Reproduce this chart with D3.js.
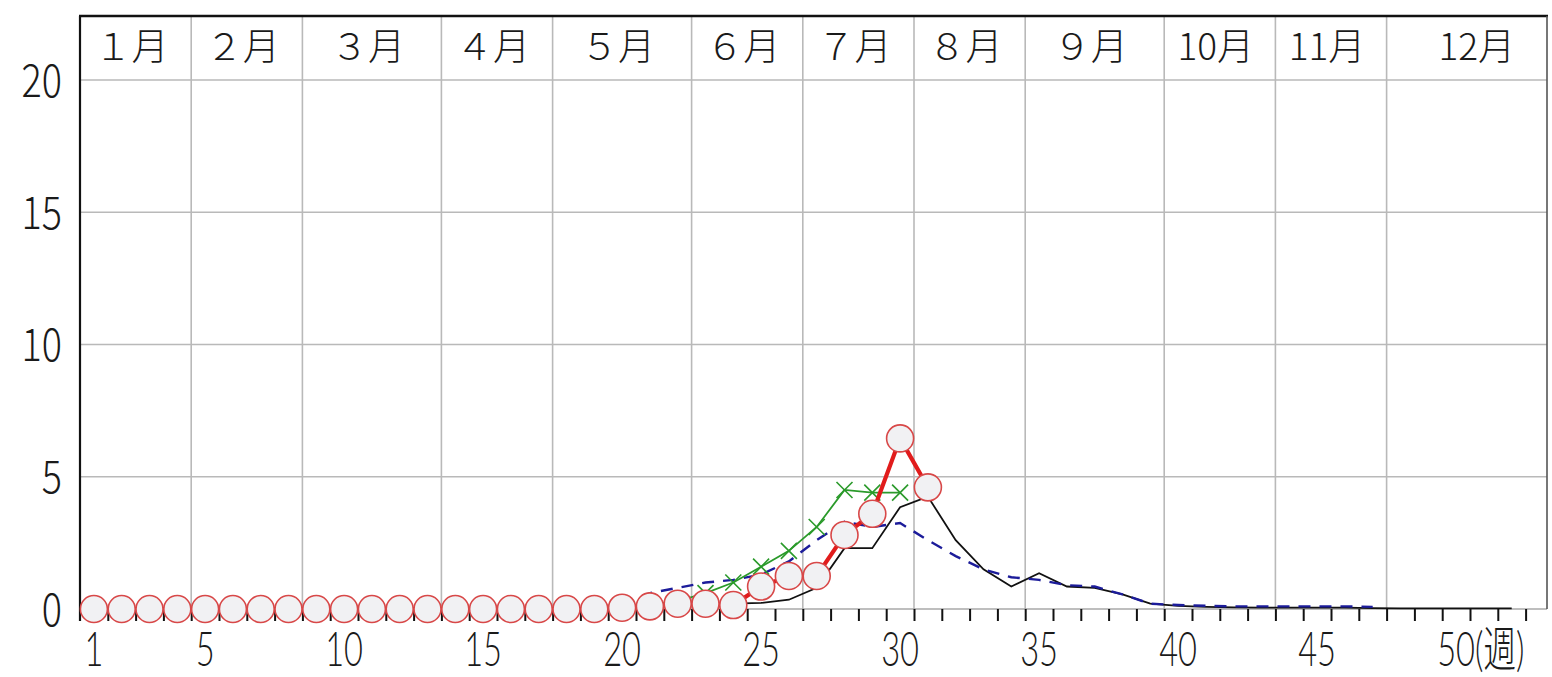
<!DOCTYPE html>
<html>
<head>
<meta charset="utf-8">
<script src="https://cdn.jsdelivr.net/npm/d3@7"></script>
<style>
  html, body { margin: 0; padding: 0; background: #fff; }
  svg { display: block; }
  text { font-weight: 300; }
</style>
</head>
<body>
<svg id="chart" width="1552" height="677"></svg>
<script>
// ---- data: weekly values per sentinel site ----
// Current season (red, circles), weeks 1-31
const currentStart = 1;
const currentValues = [
  0, 0, 0, 0, 0, 0, 0, 0, 0, 0,
  0, 0, 0, 0, 0, 0, 0, 0, 0, 0.05,
  0.1, 0.2, 0.2, 0.15, 0.85, 1.25, 1.25, 2.8, 3.6, 6.45,
  4.6
];
// Previous season (black solid), weeks 23-52
const previousStart = 23;
const previousValues = [
  0, 0.2, 0.23, 0.35, 0.8, 2.3, 2.3, 3.85, 4.25, 2.6,
  1.5, 0.85, 1.35, 0.85, 0.8, 0.55, 0.2, 0.12, 0.08, 0.06,
  0.05, 0.05, 0.05, 0.05, 0.03, 0.02, 0.02, 0.02, 0.02, 0.02
];
// Average of past seasons (blue dashed), weeks 20-47
const averageStart = 20;
const averageValues = [
  0.1, 0.6, 0.8, 1.0, 1.1, 1.3, 1.8, 2.6, 3.3, 3.1,
  3.25, 2.6, 2.0, 1.5, 1.2, 1.1, 0.9, 0.85, 0.55, 0.2,
  0.15, 0.12, 0.1, 0.1, 0.1, 0.1, 0.1, 0.08
];
// Two seasons ago (green, crosses), weeks 20-30
const twoAgoStart = 20;
const twoAgoValues = [0.05, 0.15, 0.3, 0.6, 1.0, 1.6, 2.2, 3.1, 4.5, 4.4, 4.4];

// Month bands: last week of each month
const monthLabels = ["１月", "２月", "３月", "４月", "５月", "６月", "７月", "８月", "９月", "10月", "11月", "12月"];
const monthEndWeeks = [4, 8, 13, 17, 22, 26, 30, 34, 39, 43, 47, 52];

const yTicks = [0, 5, 10, 15, 20];
const xTickLabels = [1, 5, 10, 15, 20, 25, 30, 35, 40, 45, 50];
const weekUnit = "(週)";
const weekCount = 52;

(function draw() {
  const svg = d3.select("#chart");
  const plotL = 80, plotR = 1547, plotT = 16, plotB = 609, weekW = 27.8;
  const FONT = "'Noto Sans CJK JP', 'Noto Sans', sans-serif";
  const XFONT = "Lato, 'Noto Sans CJK JP', sans-serif";

  // week boundaries k = 0..52
  const x = d3.scaleLinear().domain([0, weekCount]).range([plotL, plotL + weekCount * weekW]);
  // week centres
  const xc = d3.scaleLinear().domain([0.5, weekCount + 0.5]).range(x.range());
  const y = d3.scaleLinear().domain([0, 20]).range([plotB, 80]);

  const toPoints = (start, vals) => vals.map((v, i) => ({ w: start + i, v }));
  const current = toPoints(currentStart, currentValues);
  const previous = toPoints(previousStart, previousValues);
  const average = toPoints(averageStart, averageValues);
  const twoAgo = toPoints(twoAgoStart, twoAgoValues);

  // ---- grid ----
  const grid = svg.append("g");
  grid.selectAll("line.h").data(yTicks.filter(d => d > 0)).join("line")
    .attr("class", "h")
    .attr("x1", plotL).attr("x2", plotR)
    .attr("y1", d => y(d)).attr("y2", d => y(d))
    .attr("stroke", "#b9b9b9").attr("stroke-width", 1.6);

  grid.selectAll("line.v").data(monthEndWeeks.slice(0, -1)).join("line")
    .attr("class", "v")
    .attr("x1", d => x(d)).attr("x2", d => x(d))
    .attr("y1", plotT).attr("y2", plotB)
    .attr("stroke", "#b9b9b9").attr("stroke-width", 1.6);

  // zero line
  grid.append("line")
    .attr("x1", plotL).attr("x2", plotR).attr("y1", y(0)).attr("y2", y(0))
    .attr("stroke", "#a9a9a9").attr("stroke-width", 1.6);

  // frame
  grid.append("line").attr("x1", plotL - 1).attr("x2", plotR + 1).attr("y1", plotT).attr("y2", plotT)
    .attr("stroke", "#111").attr("stroke-width", 2.6);
  grid.append("line").attr("x1", plotR).attr("x2", plotR).attr("y1", plotT).attr("y2", plotB)
    .attr("stroke", "#555").attr("stroke-width", 1.6);
  grid.append("line").attr("x1", plotL).attr("x2", plotL).attr("y1", plotT).attr("y2", plotB + 12)
    .attr("stroke", "#111").attr("stroke-width", 2.2);

  // week ticks
  const tickAxis = svg.append("g")
    .attr("transform", `translate(0,${plotB})`)
    .call(d3.axisBottom(x).tickValues(d3.range(1, weekCount + 1)).tickSize(12).tickFormat(""));
  tickAxis.select(".domain").remove();
  tickAxis.selectAll(".tick line").attr("stroke", "#111").attr("stroke-width", 2);

  // ---- month labels ----
  const bands = monthEndWeeks.map((e, i) => ({
    label: monthLabels[i],
    a: i === 0 ? 0 : monthEndWeeks[i - 1],
    b: e
  }));
  svg.append("g").selectAll("text").data(bands).join("text")
    .attr("x", d => d.b === weekCount ? (x(d.a) + plotR) / 2 + 10 : (x(d.a) + x(d.b)) / 2 - 4)
    .attr("y", 60)
    .attr("text-anchor", "middle")
    .attr("font-family", FONT)
    .attr("font-size", 37)
    .attr("fill", "#1a1a1a")
    .text(d => d.label);

  // ---- y axis labels ----
  const ySX = 0.84;
  const yAxis = svg.append("g")
    .attr("transform", `translate(${plotL},0)`)
    .call(d3.axisLeft(y).tickValues(yTicks).tickSize(0).tickPadding(0));
  yAxis.select(".domain").remove();
  yAxis.selectAll(".tick text")
    .attr("x", -18 / ySX)
    .attr("dy", "0.36em")
    .attr("transform", `scale(${ySX},1)`)
    .attr("font-family", FONT)
    .attr("font-size", 45)
    .attr("fill", "#1a1a1a");

  // ---- x axis labels ----
  const xSX = 0.68;
  const xl = svg.append("g").selectAll("g").data(xTickLabels).join("g")
    .attr("transform", d => `translate(${xc(d)},666) scale(${xSX},1)`);
  xl.append("text")
    .attr("font-family", XFONT)
    .attr("font-size", 48)
    .attr("fill", "#1a1a1a")
    .attr("text-anchor", d => d === 50 ? "start" : "middle")
    .text(d => d === 50 ? d + weekUnit : d)
    .each(function (d) {
      if (d === 50) {
        const probe = d3.select(this.parentNode).append("text")
          .attr("font-family", XFONT).attr("font-size", 48).text(String(d));
        const w = probe.node().getComputedTextLength();
        probe.remove();
        d3.select(this).attr("x", -w / 2);
      }
    });

  // ---- series ----
  const line = d3.line().x(d => xc(d.w)).y(d => y(d.v));

  svg.append("path").datum(previous)
    .attr("d", line).attr("fill", "none")
    .attr("stroke", "#111").attr("stroke-width", 1.8);

  svg.append("path").datum(average)
    .attr("d", line).attr("fill", "none")
    .attr("stroke", "#1c1c9a").attr("stroke-width", 2.4)
    .attr("stroke-dasharray", "12,9");

  svg.append("path").datum(twoAgo)
    .attr("d", line).attr("fill", "none")
    .attr("stroke", "#2a9a2a").attr("stroke-width", 1.8);
  svg.append("g").selectAll("path").data(twoAgo).join("path")
    .attr("transform", d => `translate(${xc(d.w)},${y(d.v)})`)
    .attr("d", "M-8,-8L8,8M-8,8L8,-8")
    .attr("stroke", "#2a9a2a").attr("stroke-width", 1.6).attr("fill", "none");

  svg.append("path").datum(current)
    .attr("d", line).attr("fill", "none")
    .attr("stroke", "#e11c1c").attr("stroke-width", 4.2)
    .attr("stroke-linejoin", "round");
  svg.append("g").selectAll("circle").data(current).join("circle")
    .attr("cx", d => xc(d.w)).attr("cy", d => y(d.v)).attr("r", 13.5)
    .attr("fill", "#f1f1f3")
    .attr("stroke", "#d84848").attr("stroke-width", 1.6);
})();
</script>
</body>
</html>
